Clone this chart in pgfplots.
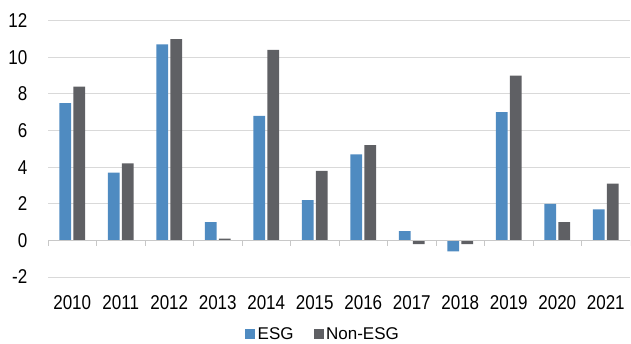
\documentclass[border=0pt]{standalone}
\usepackage{pgfplots}
\pgfplotsset{compat=1.18}
\usepackage{fontspec}
\setmainfont{Liberation Sans}
\newfontfamily\tickfont{Liberation Sans}[FakeStretch=0.85]

\definecolor{esg}{HTML}{4F8BC1}
\definecolor{nonesg}{HTML}{5F6064}
\definecolor{gridgray}{HTML}{D9D9D9}
\definecolor{axisgray}{HTML}{C8C8C8}

\begin{document}
\begin{tikzpicture}[x=1pt,y=1pt]
\path[use as bounding box] (0,0) rectangle (631,343);
\begin{axis}[
  at={(48pt,66pt)}, anchor=south west,
  scale only axis, width=582pt, height=256.3pt,
  xmin=-0.5, xmax=11.5, ymin=-2, ymax=12,
  ytick={-2,0,2,4,6,8,10,12},
  xtick={0,...,11},
  xticklabels={2010,2011,2012,2013,2014,2015,2016,2017,2018,2019,2020,2021},
  axis line style={draw=none},
  major tick length=0pt,
  ymajorgrids, grid style={gridgray, line width=1pt},
  /pgf/number format/assume math mode=true,
  ticklabel style={font=\tickfont\fontsize{20}{24}\selectfont, text=black},
  yticklabel style={inner sep=0pt, anchor=east, xshift=-20.5pt},
  xticklabel style={inner sep=0pt, anchor=north, yshift=-18pt},
  ybar, bar width=0.24,
  legend columns=2,
  legend style={draw=none, fill=none, at={(axis description cs:0.3385,-0.2243)}, anchor=west,
    inner sep=0pt, font=\fontsize{17}{20}\selectfont,
    nodes={inner sep=0pt},
    /tikz/every odd column/.append style={column sep=2.5pt},
    /tikz/every even column/.append style={column sep=20pt}},
  legend image code/.code={\fill[#1] (0pt,-5pt) rectangle (10pt,5pt);},
]
\addplot[fill=esg, draw=none, bar shift=-0.145] coordinates {
  (0,7.5) (1,3.7) (2,10.7) (3,1.0) (4,6.8) (5,2.2)
  (6,4.7) (7,0.5) (8,-0.6) (9,7.0) (10,2.0) (11,1.7)};
\addlegendentry{ESG}
\addplot[fill=nonesg, draw=none, bar shift=0.145] coordinates {
  (0,8.4) (1,4.2) (2,11.0) (3,0.1) (4,10.4) (5,3.8)
  (6,5.2) (7,-0.2) (8,-0.2) (9,9.0) (10,1.0) (11,3.1)};
\addlegendentry{Non-ESG}
% horizontal axis at zero with category separators
\draw[axisgray, line width=1pt] (axis cs:-0.5,0) -- (axis cs:11.5,0);
\pgfplotsinvokeforeach{-0.5,0.5,1.5,2.5,3.5,4.5,5.5,6.5,7.5,8.5,9.5,10.5,11.5}{
  \draw[axisgray, line width=1pt] (axis cs:#1,0) -- ++(0pt,-6pt);
}
\end{axis}
\end{tikzpicture}
\end{document}
